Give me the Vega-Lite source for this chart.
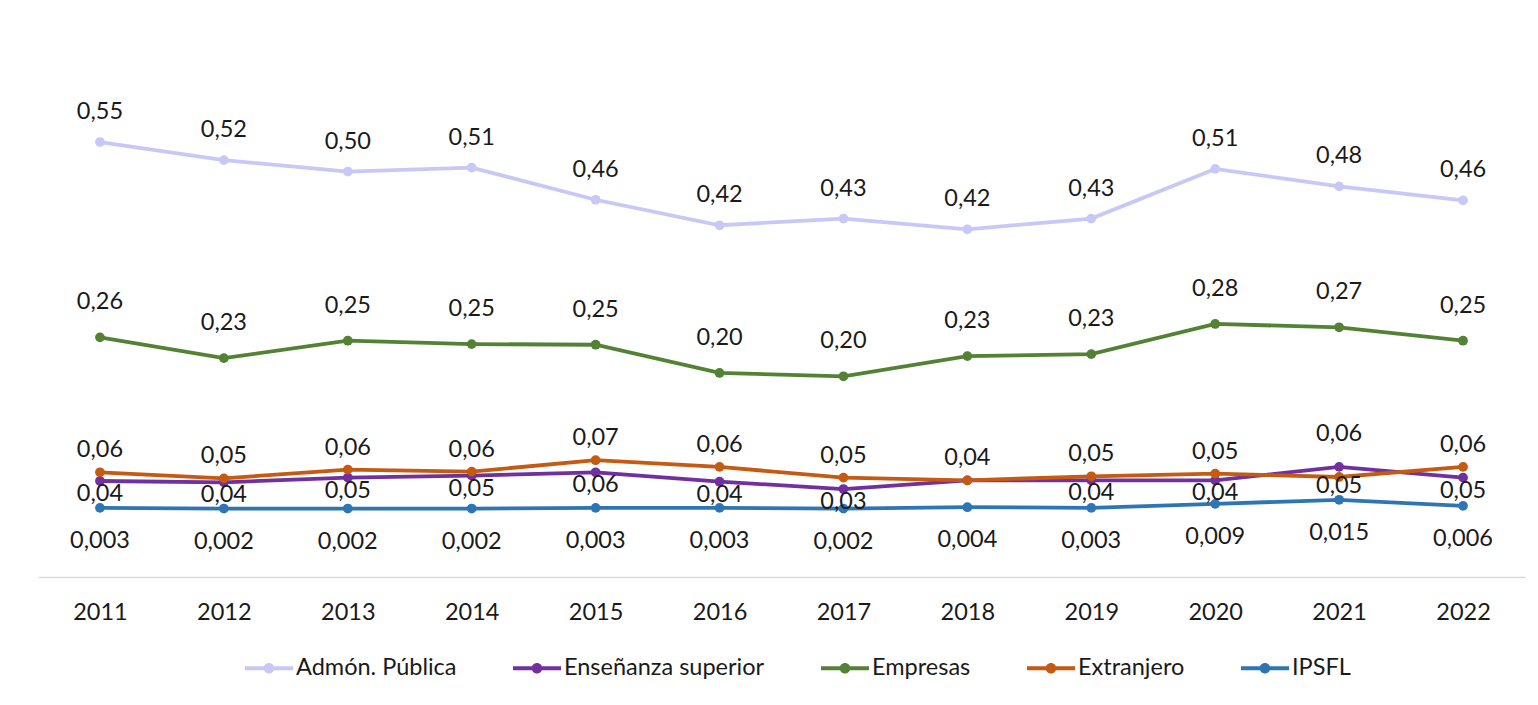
{
  "$schema": "https://vega.github.io/schema/vega-lite/v6.json",
  "width": 1487,
  "height": 537,
  "autosize": {"type": "none"},
  "padding": {"left": 38, "top": 40, "right": 13, "bottom": 128},
  "background": "white",
  "config": {
    "view": {"stroke": null},
    "font": "Lato",
    "locale": {"number": {"decimal": ",", "thousands": ".", "grouping": [3], "currency": ["", " €"]}},
    "text": {"font": "Lato", "fontSize": 23.5, "fill": "#1a1a1a"}
  },
  "data": {"values": [
    {"year": "2011", "serie": "Admón. Pública", "value": 0.548},
    {"year": "2012", "serie": "Admón. Pública", "value": 0.521},
    {"year": "2013", "serie": "Admón. Pública", "value": 0.504},
    {"year": "2014", "serie": "Admón. Pública", "value": 0.510},
    {"year": "2015", "serie": "Admón. Pública", "value": 0.462},
    {"year": "2016", "serie": "Admón. Pública", "value": 0.424},
    {"year": "2017", "serie": "Admón. Pública", "value": 0.434},
    {"year": "2018", "serie": "Admón. Pública", "value": 0.418},
    {"year": "2019", "serie": "Admón. Pública", "value": 0.434},
    {"year": "2020", "serie": "Admón. Pública", "value": 0.508},
    {"year": "2021", "serie": "Admón. Pública", "value": 0.482},
    {"year": "2022", "serie": "Admón. Pública", "value": 0.461},
    {"year": "2011", "serie": "Enseñanza superior", "value": 0.043},
    {"year": "2012", "serie": "Enseñanza superior", "value": 0.041},
    {"year": "2013", "serie": "Enseñanza superior", "value": 0.048},
    {"year": "2014", "serie": "Enseñanza superior", "value": 0.051},
    {"year": "2015", "serie": "Enseñanza superior", "value": 0.056},
    {"year": "2016", "serie": "Enseñanza superior", "value": 0.042},
    {"year": "2017", "serie": "Enseñanza superior", "value": 0.031},
    {"year": "2018", "serie": "Enseñanza superior", "value": 0.044},
    {"year": "2019", "serie": "Enseñanza superior", "value": 0.044},
    {"year": "2020", "serie": "Enseñanza superior", "value": 0.044},
    {"year": "2021", "serie": "Enseñanza superior", "value": 0.064},
    {"year": "2022", "serie": "Enseñanza superior", "value": 0.048},
    {"year": "2011", "serie": "Empresas", "value": 0.257},
    {"year": "2012", "serie": "Empresas", "value": 0.226},
    {"year": "2013", "serie": "Empresas", "value": 0.252},
    {"year": "2014", "serie": "Empresas", "value": 0.247},
    {"year": "2015", "serie": "Empresas", "value": 0.246},
    {"year": "2016", "serie": "Empresas", "value": 0.204},
    {"year": "2017", "serie": "Empresas", "value": 0.199},
    {"year": "2018", "serie": "Empresas", "value": 0.229},
    {"year": "2019", "serie": "Empresas", "value": 0.232},
    {"year": "2020", "serie": "Empresas", "value": 0.277},
    {"year": "2021", "serie": "Empresas", "value": 0.272},
    {"year": "2022", "serie": "Empresas", "value": 0.252},
    {"year": "2011", "serie": "Extranjero", "value": 0.056},
    {"year": "2012", "serie": "Extranjero", "value": 0.047},
    {"year": "2013", "serie": "Extranjero", "value": 0.060},
    {"year": "2014", "serie": "Extranjero", "value": 0.057},
    {"year": "2015", "serie": "Extranjero", "value": 0.074},
    {"year": "2016", "serie": "Extranjero", "value": 0.064},
    {"year": "2017", "serie": "Extranjero", "value": 0.048},
    {"year": "2018", "serie": "Extranjero", "value": 0.044},
    {"year": "2019", "serie": "Extranjero", "value": 0.050},
    {"year": "2020", "serie": "Extranjero", "value": 0.054},
    {"year": "2021", "serie": "Extranjero", "value": 0.049},
    {"year": "2022", "serie": "Extranjero", "value": 0.064},
    {"year": "2011", "serie": "IPSFL", "value": 0.003},
    {"year": "2012", "serie": "IPSFL", "value": 0.002},
    {"year": "2013", "serie": "IPSFL", "value": 0.002},
    {"year": "2014", "serie": "IPSFL", "value": 0.002},
    {"year": "2015", "serie": "IPSFL", "value": 0.003},
    {"year": "2016", "serie": "IPSFL", "value": 0.003},
    {"year": "2017", "serie": "IPSFL", "value": 0.002},
    {"year": "2018", "serie": "IPSFL", "value": 0.004},
    {"year": "2019", "serie": "IPSFL", "value": 0.003},
    {"year": "2020", "serie": "IPSFL", "value": 0.009},
    {"year": "2021", "serie": "IPSFL", "value": 0.015},
    {"year": "2022", "serie": "IPSFL", "value": 0.006}
  ]},
  "encoding": {
    "x": {
      "field": "year", "type": "ordinal",
      "scale": {"type": "point", "padding": 0.5},
      "axis": {
        "title": null, "domainColor": "#d9d9d9", "domainWidth": 1.5, "ticks": false,
        "labelAngle": 0, "labelFont": "Lato", "labelFontSize": 23.5, "labelColor": "#1a1a1a",
        "labelPadding": 23
      }
    },
    "y": {
      "field": "value", "type": "quantitative",
      "scale": {"domain": [-0.1, 0.7], "nice": false, "zero": false},
      "axis": null
    },
    "color": {
      "field": "serie", "type": "nominal",
      "scale": {
        "domain": ["Admón. Pública", "Enseñanza superior", "Empresas", "Extranjero", "IPSFL"],
        "range": ["#c8c8f6", "#7030a0", "#548235", "#c55a11", "#2e75b6"]
      },
      "legend": {
        "title": null, "orient": "none", "direction": "horizontal",
        "legendX": 207, "legendY": 604,
        "symbolType": "M-1,-0.08L1,-0.08L1,0.08L-1,0.08Z M0.22,0A0.22,0.22 0 1,1 -0.22,0A0.22,0.22 0 1,1 0.22,0Z",
        "symbolSize": 2304, "symbolStrokeWidth": 0, "symbolOpacity": 1,
        "labelFont": "Lato", "labelFontSize": 23.5, "labelColor": "#1a1a1a", "labelLimit": 0,
        "columnPadding": 56, "labelOffset": 3
      }
    }
  },
  "layer": [
    {
      "mark": {"type": "line", "strokeWidth": 3.8, "point": {"filled": true, "size": 95, "opacity": 1}},
      "encoding": {"order": {"field": "year"}}
    },
    {
      "transform": [{"filter": "datum.serie == 'Admón. Pública'"}],
      "mark": {"type": "text", "dy": -30},
      "encoding": {"color": {"value": "#1a1a1a"}, "text": {"field": "value", "format": ".2f"}}
    },
    {
      "transform": [{"filter": "datum.serie == 'Empresas'"}],
      "mark": {"type": "text", "dy": -35},
      "encoding": {"color": {"value": "#1a1a1a"}, "text": {"field": "value", "format": ".2f"}}
    },
    {
      "transform": [{"filter": "datum.serie == 'Extranjero' && datum.year != '2021'"}],
      "mark": {"type": "text", "dy": -22},
      "encoding": {"color": {"value": "#1a1a1a"}, "text": {"field": "value", "format": ".2f"}}
    },
    {
      "transform": [{"filter": "datum.serie == 'Extranjero' && datum.year == '2021'"}],
      "mark": {"type": "text", "dy": 9},
      "encoding": {"color": {"value": "#1a1a1a"}, "text": {"field": "value", "format": ".2f"}}
    },
    {
      "transform": [{"filter": "datum.serie == 'Enseñanza superior' && datum.year != '2018' && datum.year != '2021'"}],
      "mark": {"type": "text", "dy": 13},
      "encoding": {"color": {"value": "#1a1a1a"}, "text": {"field": "value", "format": ".2f"}}
    },
    {
      "transform": [{"filter": "datum.serie == 'Enseñanza superior' && datum.year == '2021'"}],
      "mark": {"type": "text", "dy": -33},
      "encoding": {"color": {"value": "#1a1a1a"}, "text": {"field": "value", "format": ".2f"}}
    },
    {
      "transform": [{"filter": "datum.serie == 'IPSFL'"}],
      "mark": {"type": "text", "dy": 33},
      "encoding": {"color": {"value": "#1a1a1a"}, "text": {"field": "value", "format": ".3f"}}
    }
  ]
}
